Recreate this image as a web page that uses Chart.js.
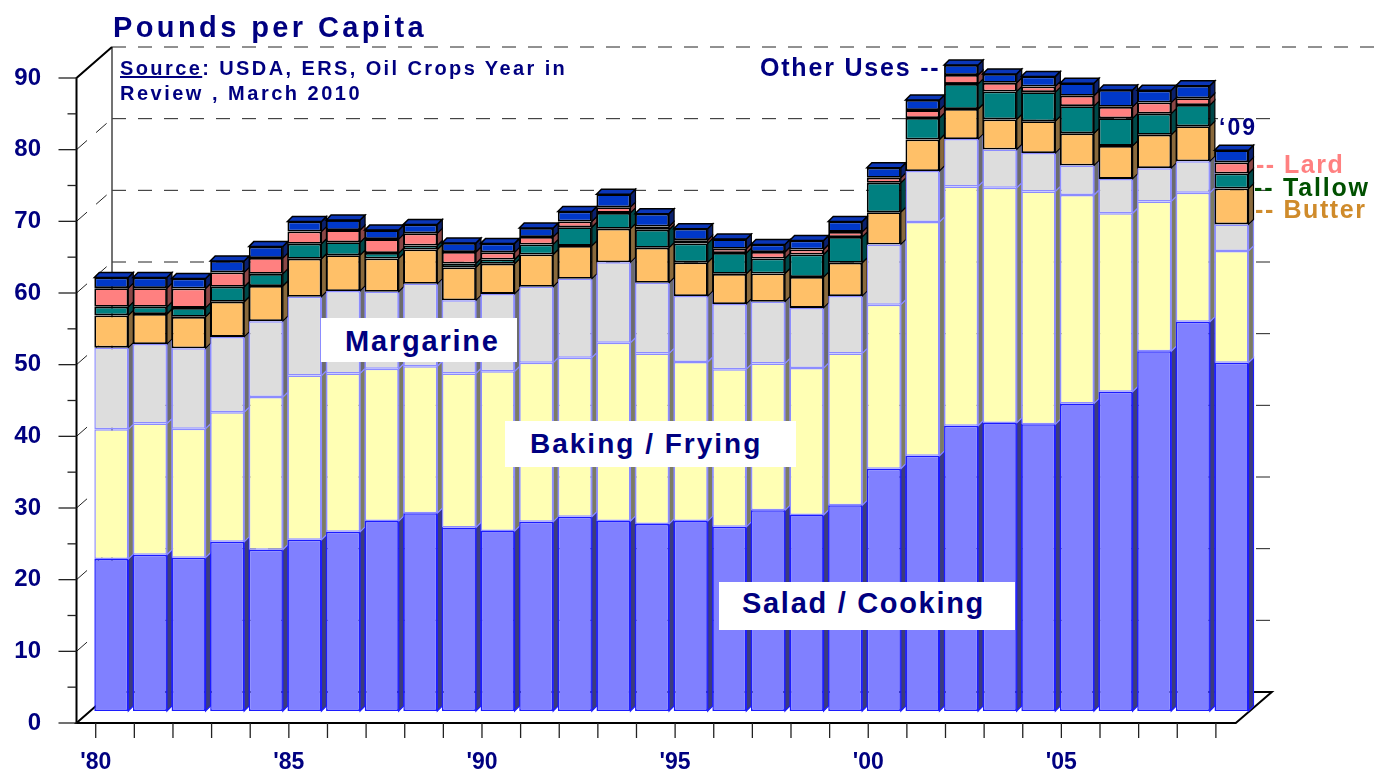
<!DOCTYPE html>
<html><head><meta charset="utf-8">
<script src="https://cdn.jsdelivr.net/npm/chart.js@4.4.1/dist/chart.umd.min.js"></script>
<style>
html,body{margin:0;padding:0;background:#fff;}
#wrap{position:relative;width:1382px;height:771px;overflow:hidden;background:#fff;}
canvas{position:absolute;left:0;top:0;}
.t{position:absolute;font-family:'Liberation Sans',Arial,sans-serif;font-weight:bold;color:#000080;white-space:nowrap;line-height:1;}
.box{position:absolute;background:#fff;}
</style></head><body>
<div id="wrap">
<canvas id="c" width="1382" height="771"></canvas>
<div class="t" style="left:113px;top:12.5px;font-size:29px;letter-spacing:3.4px;">Pounds per Capita</div>
<div class="t" style="left:120px;top:58px;font-size:20px;letter-spacing:2.4px;"><u>Source</u>: USDA, ERS, Oil Crops Year in</div>
<div class="t" style="left:120px;top:83px;font-size:20px;letter-spacing:2.5px;">Review , March 2010</div>
<div class="t" style="left:760px;top:55px;font-size:25px;letter-spacing:1.8px;">Other Uses --</div>
<div class="t" style="left:1219px;top:115.5px;font-size:23px;letter-spacing:2px;">&#8216;09</div>
<div class="t" style="left:1256px;top:151.5px;font-size:25px;letter-spacing:1.5px;color:#ff8080;">-- Lard</div>
<div class="t" style="left:1254px;top:174.8px;font-size:25px;letter-spacing:1.8px;color:#005000;">-- Tallow</div>
<div class="t" style="left:1255px;top:197.1px;font-size:25px;letter-spacing:1.6px;color:#cf8b2b;">-- Butter</div>
<div class="box" style="left:321px;top:318px;width:196px;height:44px;"></div>
<div class="t" style="left:345px;top:327.2px;font-size:29px;letter-spacing:1.8px;">Margarine</div>
<div class="box" style="left:505px;top:421px;width:291px;height:46px;"></div>
<div class="t" style="left:530px;top:430.3px;font-size:28px;letter-spacing:2px;">Baking / Frying</div>
<div class="box" style="left:719px;top:582px;width:296px;height:48px;"></div>
<div class="t" style="left:742px;top:588.8px;font-size:29px;letter-spacing:1.7px;">Salad / Cooking</div>
</div>
<script>
// ---- data (pounds per capita) ----
const years = ["'80","'81","'82","'83","'84","'85","'86","'87","'88","'89","'90","'91","'92","'93","'94","'95","'96","'97","'98","'99","'00","'01","'02","'03","'04","'05","'06","'07","'08","'09"];
const saladCooking = [21.2,21.8,21.4,23.6,22.5,23.9,25.0,26.5,27.6,25.6,25.1,26.4,27.1,26.5,26.1,26.5,25.7,28.0,27.35,28.7,33.8,35.6,39.8,40.2,40.0,42.9,44.55,50.2,54.3,48.6];
const bakingFrying = [18.1,18.3,18.0,18.1,21.3,22.9,22.1,21.25,20.5,21.5,22.3,22.2,22.2,24.9,23.8,22.2,22.0,20.5,20.5,21.2,22.9,32.65,33.4,32.8,32.5,29.1,24.9,20.9,18.0,15.6];
const margarine = [11.4,11.1,11.2,10.5,10.6,11.0,11.5,10.75,11.5,10.2,10.8,10.6,11.0,11.2,9.85,9.2,9.1,8.6,8.4,8.0,8.4,7.1,6.6,5.35,5.35,4.1,4.8,4.65,4.4,3.7];
const butter = [4.5,4.2,4.4,4.9,4.9,5.3,5.0,4.65,4.8,4.6,4.2,4.5,4.6,4.7,4.9,4.7,4.2,3.95,4.3,4.65,4.5,4.4,4.2,4.2,4.45,4.5,4.6,4.65,4.9,5.0];
const tallow = [1.2,1.0,1.25,2.1,1.7,2.1,1.8,0.75,0.55,0.55,0.6,1.4,2.6,2.2,2.5,2.65,2.9,2.1,3.15,3.6,4.1,3.0,3.5,3.9,4.05,3.8,3.85,2.95,2.95,2.1];
const lard = [2.6,2.6,2.7,2.0,2.2,1.7,1.7,1.95,1.7,1.6,1.0,1.05,0.8,0.8,0.45,0.45,0.6,0.9,0.7,0.7,0.7,1.1,1.25,1.2,0.8,1.45,1.6,1.55,0.95,1.55];
const otherUses = [1.5,1.5,1.4,1.6,1.6,1.4,1.4,1.25,1.25,1.25,1.25,1.25,1.4,1.8,1.8,1.6,1.35,1.05,1.25,1.45,1.4,1.4,1.4,1.25,1.4,1.75,2.35,1.7,1.75,1.7];
const seriesNames = ["Salad / Cooking","Baking / Frying","Margarine","Butter","Tallow","Lard","Other Uses"];
const yTickStep = 10, yMax = 90;

// ---- styles ----
const FONT = "'Liberation Sans', Arial, sans-serif";
const faceColors = ['#8080ff','#ffffb4','#dddddd','#ffc068','#008080','#ff8080','#0038c8'];
const edgeColors = ['#1c1cff','#8c8cff','#8c8cff','#000000','#000000','#000000','#000000'];
const sideColors = ['#3c3c7c','#7c7c62','#6c6c6c','#8a6a3c','#004848','#8a4646','#0a206e'];
const edgeWidths = [1.5,1.5,1.5,1.8,1.8,1.8,1.8];
const DEPTH = 5;

const seriesData = [saladCooking,bakingFrying,margarine,butter,tallow,lard,otherUses];

const frame3d = {
  id:'frame3d',
  beforeDatasetsDraw(chart){
    const {ctx, chartArea:a, scales:{x,y}} = chart;
    const fx = a.left - 15.5, bx = a.left + 20;
    const fr = a.right - 15, br = a.right + 21;
    const f = v => y.getPixelForValue(v) + 12;
    const b = v => y.getPixelForValue(v) - 19;
    ctx.save();
    // back wall dashed gridlines and side-wall diagonals
    ctx.strokeStyle = '#222'; ctx.lineWidth = 1; ctx.setLineDash([14,12]);
    for (let v = yTickStep; v <= yMax; v += yTickStep){
      ctx.beginPath(); ctx.moveTo(bx, b(v)); ctx.lineTo(v === yMax ? chart.width : br, b(v)); ctx.stroke();
      ctx.beginPath(); ctx.moveTo(fx, f(v)); ctx.lineTo(bx, b(v)); ctx.stroke();
    }
    ctx.setLineDash([]);
    ctx.strokeStyle = '#444'; ctx.lineWidth = 1.5;
    ctx.beginPath(); ctx.moveTo(bx, b(0)); ctx.lineTo(bx, b(yMax)); ctx.stroke();
    // floor
    ctx.strokeStyle = '#000'; ctx.lineWidth = 2;
    ctx.beginPath(); ctx.moveTo(fx, f(0)); ctx.lineTo(fr, f(0)); ctx.lineTo(br, b(0)); ctx.lineTo(bx, b(0)); ctx.closePath(); ctx.stroke();
    // left axis
    ctx.beginPath(); ctx.moveTo(fx, f(0)); ctx.lineTo(fx, f(yMax)); ctx.lineTo(bx, b(yMax)); ctx.stroke();
    // y ticks
    ctx.lineWidth = 1.3; ctx.strokeStyle = '#222';
    for (let v = 0; v <= yMax; v += yTickStep/2){
      const len = (v % yTickStep === 0) ? 18 : 9;
      ctx.beginPath(); ctx.moveTo(fx - len, f(v)); ctx.lineTo(fx, f(v)); ctx.stroke();
    }
    // x ticks
    for (let i = 0; i < years.length; i++){
      const px = x.getPixelForValue(i) - 15.6;
      ctx.beginPath(); ctx.moveTo(px, f(0)); ctx.lineTo(px, f(0) + 15); ctx.stroke();
    }
    // 3D side and top faces
    const metas = chart.data.datasets.map((_, k) => chart.getDatasetMeta(k));
    const d = DEPTH;
    for (let i = 0; i < years.length; i++){
      for (let k = 0; k < metas.length; k++){
        const el = metas[k].data[i];
        const p = el.getProps(['x','y','base','width'], true);
        const l = p.x - p.width/2, r = p.x + p.width/2;
        const t = Math.min(p.y, p.base), bo = Math.max(p.y, p.base);
        ctx.beginPath();
        ctx.moveTo(r, bo); ctx.lineTo(r + d, bo - d); ctx.lineTo(r + d, t - d); ctx.lineTo(r, t); ctx.closePath();
        ctx.fillStyle = sideColors[k]; ctx.fill();
        ctx.strokeStyle = edgeColors[k]; ctx.lineWidth = 1.2; ctx.stroke();
        if (k === metas.length - 1){
          ctx.beginPath();
          ctx.moveTo(l, t); ctx.lineTo(l + d, t - d); ctx.lineTo(r + d, t - d); ctx.lineTo(r, t); ctx.closePath();
          ctx.fillStyle = '#0a36b8'; ctx.fill();
          ctx.strokeStyle = '#000'; ctx.lineWidth = 1.5; ctx.stroke();
        }
      }
    }
    ctx.restore();
  }
};

new Chart(document.getElementById('c'), {
  type: 'bar',
  data: {
    labels: years,
    datasets: seriesData.map((arr, k) => ({
      label: seriesNames[k], data: arr,
      backgroundColor: faceColors[k], borderColor: edgeColors[k], borderWidth: edgeWidths[k]
    }))
  },
  options: {
    responsive: false, animation: false, devicePixelRatio: 1,
    layout: { padding: { top: 66, right: 131.2, left: 0, bottom: 0 } },
    plugins: { legend: { display: false }, tooltip: { enabled: false } },
    datasets: { bar: { categoryPercentage: 1, barPercentage: 0.88, borderSkipped: false, clip: false, inflateAmount: 0 } },
    scales: {
      x: {
        stacked: true, grid: { display: false, drawTicks: false }, border: { display: false },
        ticks: { autoSkip: false, maxRotation: 0, minRotation: 0, padding: 38, labelOffset: -15.6, color: '#000080',
                 font: { family: FONT, size: 23, weight: 'bold' },
                 callback: (v, i) => (i % 5 === 0 ? years[i] : '') },
        afterFit: s => { s.height = 60; s.paddingLeft = 0; s.paddingRight = 0; }
      },
      y: {
        stacked: true, min: 0, max: yMax, grid: { display: false, drawTicks: false }, border: { display: false },
        ticks: { stepSize: yTickStep, padding: 51, labelOffset: 12, color: '#000080',
                 font: { family: FONT, size: 24, weight: 'bold' } },
        afterFit: s => { s.width = 92; s.paddingTop = 0; s.paddingBottom = 0; }
      }
    }
  },
  plugins: [frame3d]
});
</script>
</body></html>
